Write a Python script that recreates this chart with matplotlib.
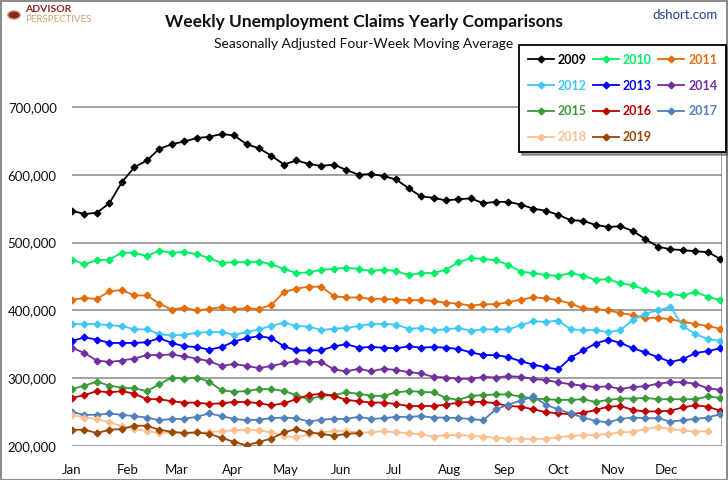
import numpy as np
import matplotlib
matplotlib.use('Agg')
from matplotlib import pyplot as plt
from matplotlib.patches import Rectangle, Circle
from matplotlib.ticker import FuncFormatter

plt.rcParams['font.family'] = ['Lato', 'DejaVu Sans']

# four-week moving average of initial claims, thousands, one value per week
c2009 = [547, 542, 544, 558, 589, 611, 621, 638, 645, 649, 654, 656, 660, 658, 645, 639, 628, 615,
         621, 616, 613, 615, 607, 600, 601, 598, 593, 580, 568, 566, 562, 564, 565, 558, 560, 560,
         556, 550, 547, 541, 533, 532, 526, 523, 524, 517, 505, 494, 490, 489, 487, 486, 476]
c2010 = [475, 468, 474, 475, 485, 485, 480, 488, 485, 486, 483, 477, 470, 471, 471, 472, 468, 461,
         455, 456, 460, 461, 463, 461, 458, 460, 458, 452, 455, 455, 460, 471, 477, 476, 474, 467,
         457, 455, 452, 451, 455, 451, 445, 446, 440, 437, 430, 425, 424, 422, 427, 420, 415]
c2011 = [416, 418, 417, 428, 430, 422, 422, 410, 401, 404, 400, 402, 405, 402, 403, 402, 408, 427,
         432, 435, 435, 421, 419, 419, 417, 417, 416, 415, 415, 414, 411, 410, 407, 409, 409, 412,
         416, 419, 418, 415, 410, 403, 402, 400, 396, 393, 389, 389, 387, 383, 380, 377, 373]
c2012 = [380, 380, 380, 378, 377, 372, 372, 365, 363, 364, 367, 368, 368, 364, 368, 372, 377, 382,
         377, 376, 371, 373, 374, 377, 380, 380, 379, 373, 374, 371, 372, 374, 370, 372, 372, 372,
         378, 384, 383, 385, 372, 371, 371, 368, 371, 386, 395, 400, 405, 377, 365, 358, 355]
c2013 = [355, 360, 357, 352, 352, 352, 353, 359, 352, 347, 346, 342, 346, 354, 359, 362, 359, 347,
         341, 341, 341, 347, 350, 345, 346, 345, 344, 347, 345, 346, 345, 343, 338, 334, 334, 331,
         325, 320, 316, 313, 330, 341, 351, 357, 352, 344, 338, 331, 324, 328, 337, 340, 344]
c2014 = [345, 337, 326, 324, 326, 329, 334, 334, 335, 332, 329, 325, 318, 321, 318, 315, 318, 322,
         325, 324, 324, 313, 310, 314, 310, 314, 312, 309, 307, 302, 301, 299, 299, 302, 301, 303,
         302, 299, 297, 294, 291, 289, 287, 288, 284, 287, 288, 292, 294, 294, 292, 285, 283]
c2015 = [284, 289, 295, 289, 286, 285, 281, 291, 301, 299, 301, 295, 282, 280, 281, 284, 284, 281,
         275, 269, 274, 275, 279, 277, 274, 274, 279, 281, 280, 279, 271, 268, 274, 275, 276, 276,
         273, 270, 269, 268, 268, 269, 265, 268, 270, 270, 271, 269, 269, 269, 269, 273, 271]
c2016 = [271, 275, 281, 279, 281, 277, 269, 269, 266, 264, 264, 262, 263, 265, 265, 263, 260, 263,
         269, 275, 277, 274, 268, 266, 264, 264, 262, 259, 259, 259, 261, 264, 265, 265, 263, 259,
         258, 254, 250, 248, 247, 249, 253, 258, 259, 253, 251, 251, 252, 257, 260, 258, 252]
c2017 = [250, 246, 246, 248, 246, 244, 242, 238, 240, 240, 243, 248, 244, 240, 238, 239, 241, 242,
         241, 236, 239, 240, 240, 243, 240, 241, 243, 243, 244, 242, 242, 241, 240, 238, 254, 261,
         267, 273, 261, 254, 248, 242, 237, 235, 240, 242, 241, 241, 236, 238, 240, 242, 247]
c2018 = [246, 242, 240, 235, 229, 225, 222, 219, 220, 220, 220, 220, 222, 223, 224, 223, 220, 215,
         213, 217, 220, 222, 222, 220, 220, 222, 220, 219, 217, 214, 216, 216, 215, 214, 212, 211,
         211, 210, 211, 213, 215, 216, 216, 218, 220, 221, 225, 228, 225, 223, 221, 222]
c2019 = [224, 224, 219, 224, 225, 230, 230, 224, 221, 219, 220, 218, 212, 206, 201, 206, 211, 220,
         225, 220, 218, 215, 218, 219]

years = ['2009', '2010', '2011', '2012', '2013', '2014', '2015', '2016', '2017', '2018', '2019']
series = [c2009, c2010, c2011, c2012, c2013, c2014, c2015, c2016, c2017, c2018, c2019]
colors = ['#000000', '#00EE66', '#E46C0A', '#3FC8F4', '#0000FF', '#7030A0',
          '#3A9A3A', '#C00000', '#4F81BD', '#FAC090', '#984807']

months = ['Jan', 'Feb', 'Mar', 'Apr', 'May', 'Jun', 'Jul', 'Aug', 'Sep', 'Oct', 'Nov', 'Dec']
month_start = [0, 31, 59, 90, 120, 151, 181, 212, 243, 273, 304, 334]


def main():
    fig, ax = fig_setup()
    handles = []
    for yr, vals, col in zip(years, series, colors):
        days = np.arange(len(vals)) * 7
        ln, = ax.plot(days, np.array(vals) * 1000, color=col, lw=1.3,
                      marker='D', ms=3.4, mec=col, mfc=col, label=yr)
        handles.append(ln)

    # excel legend reads across rows, matplotlib fills down columns
    order = [0, 3, 6, 9, 1, 4, 7, 10, 2, 5, 8]
    leg = fig.legend([handles[i] for i in order], [years[i] for i in order], ncol=3,
                     loc='upper right', bbox_to_anchor=(726 / 728, 1 - 45 / 480),
                     frameon=True, fancybox=False, shadow=True, edgecolor='black',
                     prop={'weight': 'bold', 'size': 9}, handlelength=2.1,
                     handletextpad=0.3, columnspacing=0.5, labelspacing=1.1,
                     borderpad=0.7, borderaxespad=0)
    leg.get_frame().set_linewidth(1.3)
    for txt, i in zip(leg.get_texts(), order):
        txt.set_color(colors[i])

    header(fig)
    fig.savefig('out.png', dpi=100)


def fig_setup():
    fig = plt.figure(figsize=(7.28, 4.8), dpi=100)
    ax = fig.add_axes([72 / 728, 1 - 446 / 480, 650 / 728, 373 / 480])
    ax.set_xlim(0, 365)
    ax.set_ylim(200000, 750000)
    ax.set_xticks(month_start)
    ax.set_xticklabels(months)
    ax.set_xticks(month_start + [365], minor=True)
    ax.set_yticks(np.arange(200000, 700001, 100000))
    ax.yaxis.set_major_formatter(FuncFormatter(lambda v, p: '{:,.0f}'.format(v)))
    ax.grid(True, which='minor', axis='x', color='#868686', lw=1.1)
    ax.grid(True, which='major', axis='y', color='#868686', lw=1.1)
    ax.tick_params(which='both', length=0)
    ax.tick_params(axis='y', pad=11, labelsize=9.5, labelcolor='#111111')
    ax.tick_params(axis='x', pad=13, labelsize=9.5, labelcolor='#111111')
    for s in ax.spines.values():
        s.set_visible(False)
    ax.set_axisbelow(True)
    return fig, ax


def header(fig):
    fig.patches.append(Rectangle((0.001, 0.001), 0.998, 0.997, transform=fig.transFigure,
                                 fill=False, edgecolor='#8c8c8c', lw=1.5))
    fig.text(0.5, 1 - 22 / 480, 'Weekly Unemployment Claims Yearly Comparisons',
             ha='center', va='center', fontsize=12.5, fontweight='bold', color='#111111')
    fig.text(0.5, 1 - 44 / 480, 'Seasonally Adjusted Four-Week Moving Average',
             ha='center', va='center', fontsize=10, color='#111111')
    fig.text(718 / 728, 1 - 15 / 480, 'dshort.com', ha='right', va='center',
             fontsize=9.5, color='#1F3F8F')
    # advisor perspectives logo
    fig.patches.append(Circle((14 / 728, 1 - 15 / 480), 0.0085, transform=fig.transFigure,
                              facecolor='#8B2323', edgecolor='#C8A46A', lw=1))
    fig.text(25 / 728, 1 - 10 / 480, 'ADVISOR', ha='left', va='center', fontsize=7.5,
             fontweight='bold', color='#8B2323')
    fig.text(25 / 728, 1 - 20 / 480, 'PERSPECTIVES', ha='left', va='center', fontsize=7,
             color='#C8A46A')


main()
